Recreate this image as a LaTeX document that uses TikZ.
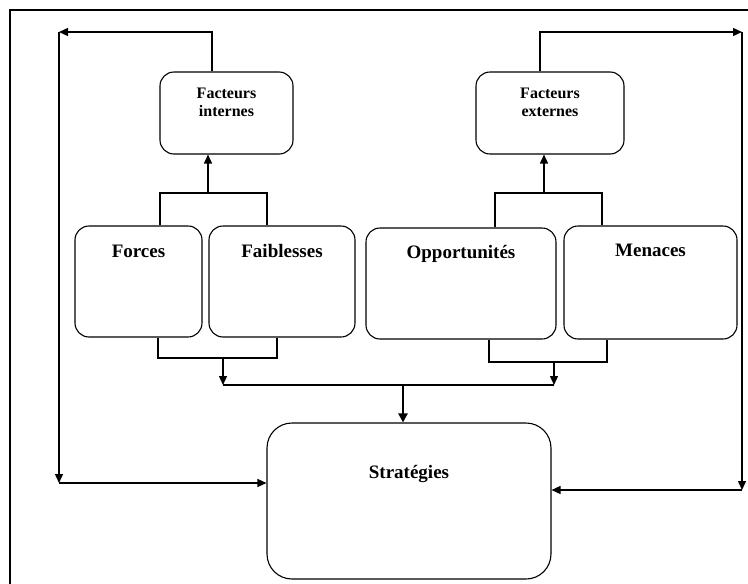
\documentclass[tikz,border=0pt]{standalone}
\usepackage{fontspec}
\setmainfont{Liberation Serif}
\usetikzlibrary{arrows.meta}
\begin{document}
\begin{tikzpicture}[x=1pt,y=-1pt,
  box/.style={draw,line width=1.1pt,rounded corners=14pt,inner sep=0pt},
  conn/.style={line width=1.4pt},
  arr/.style={conn,-{Triangle[length=9pt,width=8pt]}},
  lab/.style={font=\bfseries\fontsize{19}{22}\selectfont,anchor=base,inner sep=0pt},
  slab/.style={font=\bfseries\fontsize{16}{18}\selectfont,align=center,inner sep=0pt,anchor=north}]
\useasboundingbox (0,0) rectangle (748,584);
\draw[line width=2pt] (10,584) -- (10,10) -- (748,10);
% boxes
\node[box,minimum width=133pt,minimum height=82pt] (fi) at (226.5,113) {};
\node[box,minimum width=148pt,minimum height=82pt] (fe) at (550,113) {};
\node[box,minimum width=127pt,minimum height=111pt] (forces) at (138.5,281.5) {};
\node[box,minimum width=146pt,minimum height=111pt] (faib) at (282,281.5) {};
\node[box,minimum width=190pt,minimum height=111pt] (opp) at (461,283.5) {};
\node[box,minimum width=173pt,minimum height=113pt] (men) at (650.5,282.5) {};
\node[box,rounded corners=25pt,minimum width=284pt,minimum height=156pt] (strat) at (409,501) {};
% texts
\node[slab] (fit) at (226.5,88) {Facteurs\\internes};
\node[slab] (fet) at (550,88) {Facteurs\\externes};
\node[lab] (forcest) at (138.5,257) {Forces};
\node[lab] (faibt) at (282,257) {Faiblesses};
\node[lab] (oppt) at (461,258) {Opportunités};
\node[lab] (ment) at (650.5,256) {Menaces};
\node[lab] (stratt) at (409,478) {Stratégies};
% coordinates
\coordinate (tl) at (59,32);
\coordinate (tr) at (742,32);
\coordinate (bl) at (59,483);
\coordinate (br) at (742,490);
\coordinate (fiu) at (212,32);
\coordinate (feu) at (540,32);
\coordinate (a1) at (160,193);
\coordinate (a2) at (267,193);
\coordinate (ibr) at (208,193);
\coordinate (c1) at (495,193);
\coordinate (c2) at (602,193);
\coordinate (ebr) at (544,193);
\coordinate (b1) at (158,358);
\coordinate (b2) at (277,358);
\coordinate (fb) at (223,358);
\coordinate (d1) at (489,362);
\coordinate (d2) at (607,362);
\coordinate (ob) at (554,362);
\coordinate (hl) at (223,385);
\coordinate (hr) at (554,385);
\coordinate (hc) at (403,385);
% outer loops
\draw[arr] (fiu |- fi.north) -- (fiu) -- (tl);
\draw[arr] (tl) -- (bl);
\draw[arr] (bl) -- (bl -| strat.west);
\draw[arr] (feu |- fe.north) -- (feu) -- (tr);
\draw[arr] (tr) -- (br);
\draw[arr] (br) -- (br -| strat.east);
% top brackets
\draw[conn] (a1 |- forces.north) -- (a1) -- (a2) -- (a2 |- faib.north);
\draw[arr] (ibr) -- (ibr |- fi.south);
\draw[conn] (c1 |- opp.north) -- (c1) -- (c2) -- (c2 |- men.north);
\draw[arr] (ebr) -- (ebr |- fe.south);
% bottom brackets
\draw[conn] (b1 |- forces.south) -- (b1) -- (b2) -- (b2 |- faib.south);
\draw[arr] (fb) -- (hl);
\draw[conn] (d1 |- opp.south) -- (d1) -- (d2) -- (d2 |- men.south);
\draw[arr] (ob) -- (hr);
\draw[conn] (hl) -- (hr);
\draw[arr,line width=2.6pt,-{Triangle[length=9pt,width=9pt]}] (hc) -- (hc |- strat.north);
\end{tikzpicture}
\end{document}
